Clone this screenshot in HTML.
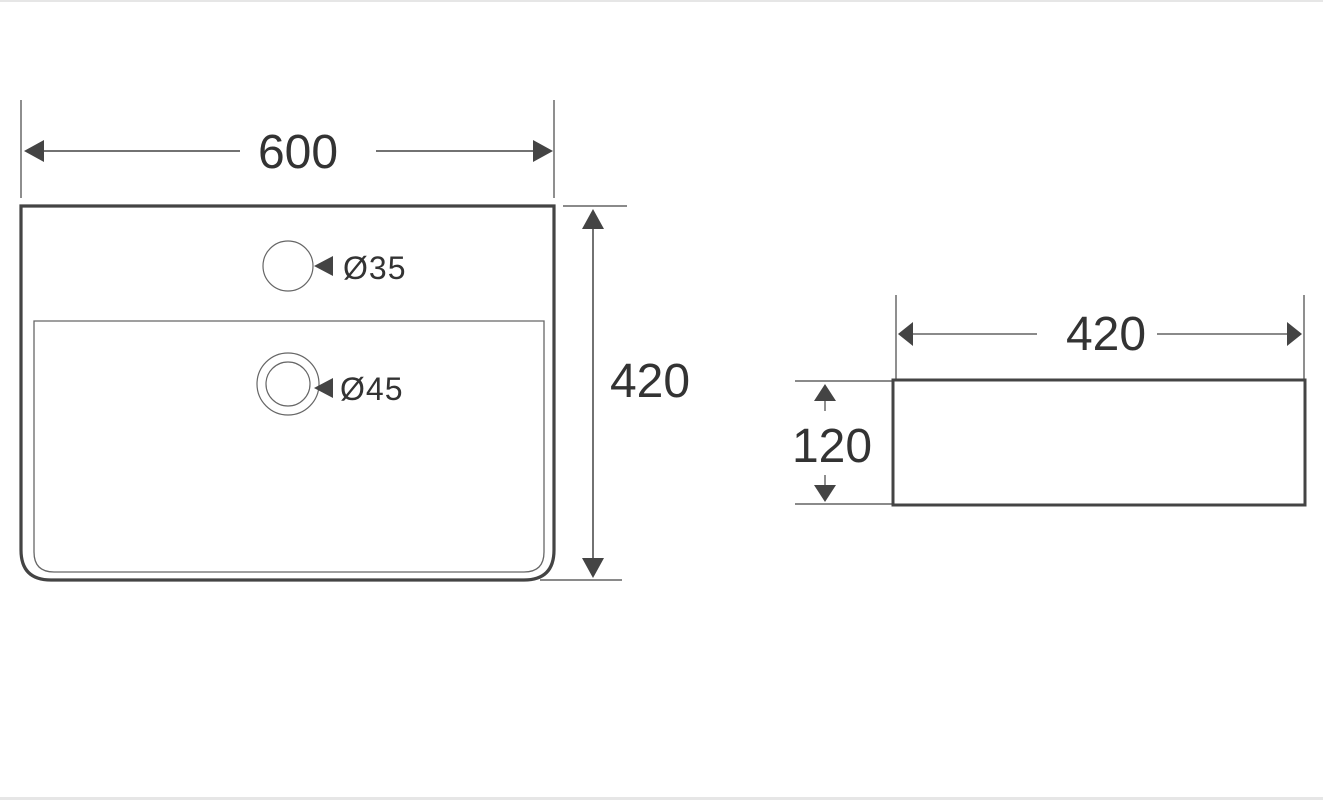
<!DOCTYPE html>
<html><head><meta charset="utf-8"><style>
html,body{margin:0;padding:0;background:#fff;width:1323px;height:800px;overflow:hidden}
svg{display:block}
text{font-family:"Liberation Sans",sans-serif;fill:#333}
</style></head><body>
<svg width="1323" height="800" viewBox="0 0 1323 800" xmlns="http://www.w3.org/2000/svg">
<rect x="0" y="0" width="1323" height="2" fill="#e6e6e6"/>
<rect x="0" y="797" width="1323" height="3" fill="#e6e6e6"/>
<g stroke="#444" fill="none">
<path d="M21,206 H554 V550 Q554,580 524,580 H51 Q21,580 21,550 Z" stroke-width="3.2"/>
<path d="M34,321 H544 V552 Q544,572 524,572 H54 Q34,572 34,552 Z" stroke-width="1.3" stroke="#666"/>
<circle cx="288" cy="266" r="25" stroke-width="1.2" stroke="#666"/>
<circle cx="288" cy="384" r="31" stroke-width="1.2" stroke="#666"/>
<circle cx="288" cy="384" r="22" stroke-width="1.2" stroke="#666"/>
<line x1="21" y1="100" x2="21" y2="198" stroke-width="1.2"/>
<line x1="554" y1="100" x2="554" y2="198" stroke-width="1.2"/>
<line x1="30" y1="151" x2="240" y2="151" stroke-width="1.5"/>
<line x1="376" y1="151" x2="548" y2="151" stroke-width="1.5"/>
<line x1="563" y1="206" x2="627" y2="206" stroke-width="1.2"/>
<line x1="540" y1="580" x2="622" y2="580" stroke-width="1.2"/>
<line x1="593" y1="214" x2="593" y2="574" stroke-width="1.5"/>
<rect x="893" y="380" width="412" height="125" stroke-width="3"/>
<line x1="896" y1="295" x2="896" y2="380" stroke-width="1.2"/>
<line x1="1304" y1="295" x2="1304" y2="380" stroke-width="1.2"/>
<line x1="904" y1="334" x2="1037" y2="334" stroke-width="1.2"/>
<line x1="1157" y1="334" x2="1296" y2="334" stroke-width="1.2"/>
<line x1="795" y1="381" x2="893" y2="381" stroke-width="1.2"/>
<line x1="795" y1="504" x2="893" y2="504" stroke-width="1.2"/>
<line x1="825" y1="400" x2="825" y2="411" stroke-width="1.2"/>
<line x1="825" y1="475" x2="825" y2="486" stroke-width="1.2"/>
</g>
<g fill="#444">
<polygon points="24,151 44,140 44,162"/>
<polygon points="553,151 533,140 533,162"/>
<polygon points="593,209 582,229 604,229"/>
<polygon points="593,578 582,558 604,558"/>
<polygon points="314,266 333,256 333,276"/>
<polygon points="314,388 333,378 333,398"/>
<polygon points="898,334 913,322 913,346"/>
<polygon points="1302,334 1287,322 1287,346"/>
<polygon points="825,384 814,401 836,401"/>
<polygon points="825,502 814,485 836,485"/>
</g>
<text x="298" y="168" font-size="48" text-anchor="middle">600</text>
<text x="650" y="397" font-size="48" text-anchor="middle">420</text>
<text x="343" y="279" font-size="32" letter-spacing="1">Ø35</text>
<text x="340" y="400" font-size="32" letter-spacing="1">Ø45</text>
<text x="1106" y="350" font-size="48" text-anchor="middle">420</text>
<text x="832" y="462" font-size="48" text-anchor="middle">120</text>
</svg>
</body></html>
